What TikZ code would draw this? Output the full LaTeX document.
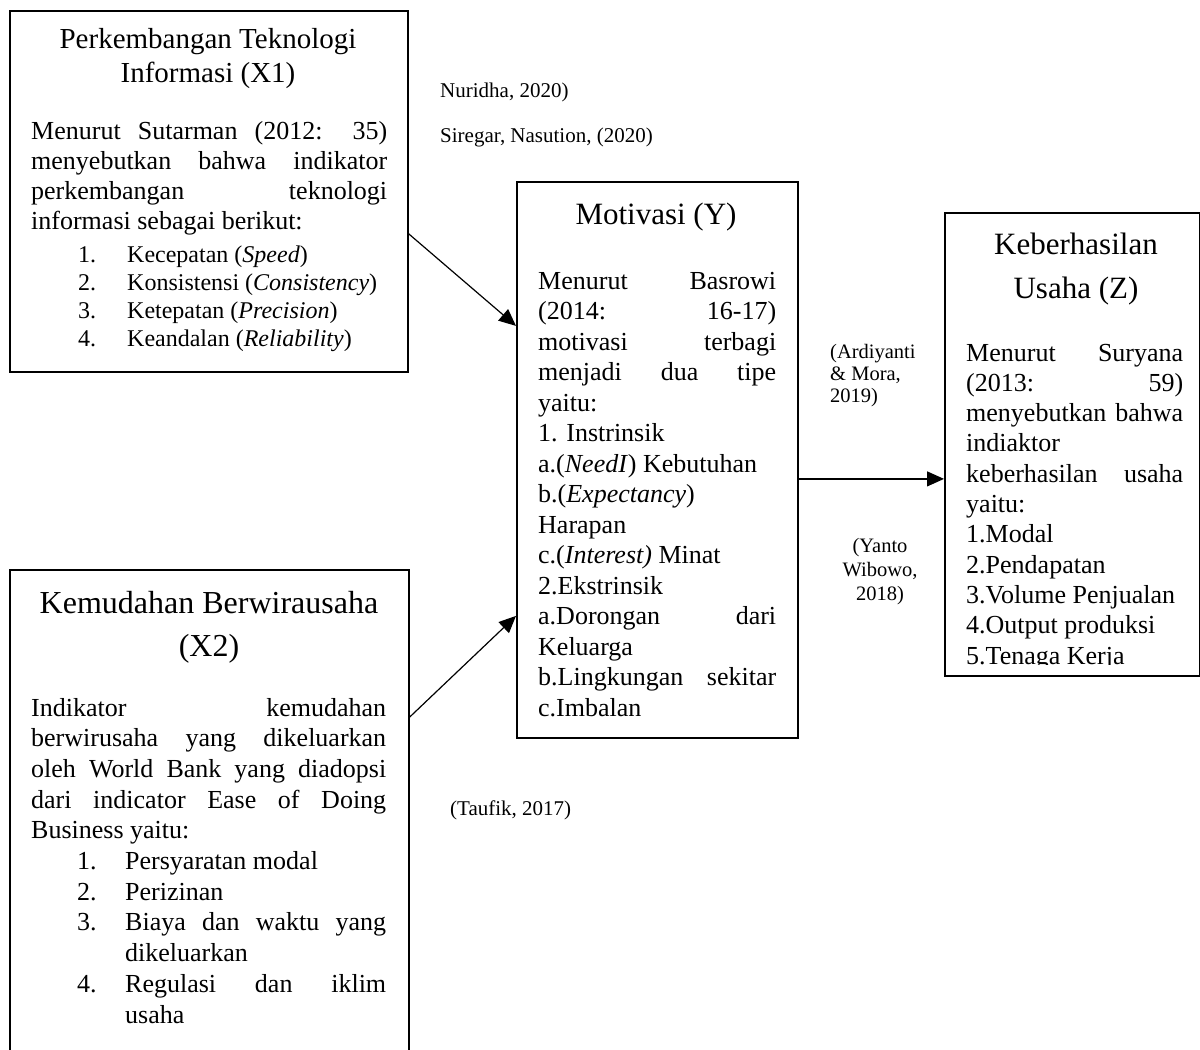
\documentclass[tikz,border=0pt]{standalone}
\usepackage{fontspec}
\setmainfont{Liberation Serif}
\usetikzlibrary{arrows.meta}
\newcommand\fs[2]{\fontsize{#1}{#2}\selectfont}
\newcommand\J[2]{\makebox[#1][s]{#2}}
\begin{document}
\begin{tikzpicture}[x=1pt,y=-1pt,
  box/.style={draw, line width=1.8pt, inner sep=0pt, anchor=north west},
  tb/.style={inner sep=0pt, anchor=base west},
  tc/.style={inner sep=0pt, anchor=base},
  conn/.style={line width=1.2pt, -{Triangle[length=17pt,width=15pt]}}]
\useasboundingbox (0,0) rectangle (1200,1050);

% boxes
\node[box, minimum width=398pt, minimum height=361pt] (x1) at (9,10) {};
\node[box, draw=none, minimum width=397pt, minimum height=482pt] (x2) at (10,570) {};
\draw[line width=1.8pt] (x2.south west) -- (x2.north west) -- (x2.north east) -- (x2.south east);
\node[box, minimum width=281pt, minimum height=556pt] (y) at (516,181) {};
\node[box, minimum width=255pt, minimum height=463pt] (z) at (944,212) {};

% connectors
\draw[conn] ([yshift=-42.5pt]x1.east) -- ([yshift=134pt]y.west);
\draw[conn] ([yshift=94pt]x2.east) -- ([yshift=-156pt]y.west);
\draw[conn] ([yshift=-19pt]y.east) -- ([yshift=-34.5pt]z.west);

% X1 texts
\node[tc] (x1t) at (208,48) {\parbox[t]{390pt}{\centering\fs{29}{34}Perkembangan Teknologi\\Informasi (X1)}};
\node[tb] (x1b) at (31,139) {\parbox[t]{356pt}{\fs{26}{30}%
\J{356pt}{Menurut Sutarman (2012: 35)}\\
\J{356pt}{menyebutkan bahwa indikator}\\
\J{356pt}{perkembangan teknologi}\\
informasi sebagai berikut:}};
\node[tb] (x1l) at (78,262) {\parbox[t]{320pt}{\fs{24}{28}%
\makebox[49pt][l]{1.}Kecepatan (\textit{Speed})\\
\makebox[49pt][l]{2.}Konsistensi (\textit{Consistency})\\
\makebox[49pt][l]{3.}Ketepatan (\textit{Precision})\\
\makebox[49pt][l]{4.}Keandalan (\textit{Reliability})}};

% X2 texts
\node[tc] (x2t) at (209,613) {\parbox[t]{390pt}{\centering\fs{32}{43}Kemudahan Berwirausaha\\(X2)}};
\node[tb] (x2b) at (31,716) {\parbox[t]{355pt}{\fs{26}{30.7}%
\J{355pt}{Indikator kemudahan}\\
\J{355pt}{berwirusaha yang dikeluarkan}\\
\J{355pt}{oleh World Bank yang diadopsi}\\
\J{355pt}{dari indicator Ease of Doing}\\
Business yaitu:}};
\node[tb] (x2l) at (77,869.5) {\parbox[t]{320pt}{\fs{26}{30.7}%
\makebox[48pt][l]{1.}Persyaratan modal\\
\makebox[48pt][l]{2.}Perizinan\\
\makebox[48pt][l]{3.}\J{261pt}{Biaya dan waktu yang}\\
\hspace*{48pt}dikeluarkan\\
\makebox[48pt][l]{4.}\J{261pt}{Regulasi dan iklim}\\
\hspace*{48pt}usaha}};

% Y texts
\node[tc] (yt) at (656,224) {\fs{31}{36}Motivasi (Y)};
\node[tb] (yb) at (538,289) {\parbox[t]{238pt}{\fs{26}{30.5}%
\J{238pt}{Menurut Basrowi}\\
\J{238pt}{(2014: 16-17)}\\
\J{238pt}{motivasi terbagi}\\
\J{238pt}{menjadi dua tipe}\\
yaitu:\\
1. Instrinsik\\
a.(\textit{NeedI}) Kebutuhan\\
b.(\textit{Expectancy})\\
Harapan\\
c.(\textit{Interest)} Minat\\
2.Ekstrinsik\\
\J{238pt}{a.Dorongan dari}\\
Keluarga\\
\J{238pt}{b.Lingkungan sekitar}\\
c.Imbalan}};

% Z texts
\node[tc] (zt) at (1076,254) {\parbox[t]{240pt}{\centering\fs{31}{44}Keberhasilan\\Usaha (Z)}};
\begin{scope}
\clip (944,212) rectangle (1199,664.5);
\node[tb] (zb) at (966,361) {\parbox[t]{217pt}{\fs{26}{30.3}%
\J{217pt}{Menurut Suryana}\\
\J{217pt}{(2013: 59)}\\
\J{217pt}{menyebutkan bahwa}\\
indiaktor\\
\J{217pt}{keberhasilan usaha}\\
yaitu:\\
1.Modal\\
2.Pendapatan\\
3.Volume Penjualan\\
4.Output produksi\\
5.Tenaga Kerja}};
\end{scope}

% citations
\node[tb, font=\fs{21}{24}] (c1) at (440,97) {Nuridha, 2020)};
\node[tb, font=\fs{21}{24}] (c2) at (440,142) {Siregar, Nasution, (2020)};
\node[tb] (c3) at (830,358) {\parbox[t]{100pt}{\fs{20.5}{22}(Ardiyanti\\\& Mora,\\2019)}};
\node[tc] (c4) at (880,552) {\parbox[t]{100pt}{\centering\fs{20.5}{24}(Yanto\\Wibowo,\\2018)}};
\node[tb, font=\fs{21}{24}] (c5) at (450,815) {(Taufik, 2017)};
\end{tikzpicture}
\end{document}
